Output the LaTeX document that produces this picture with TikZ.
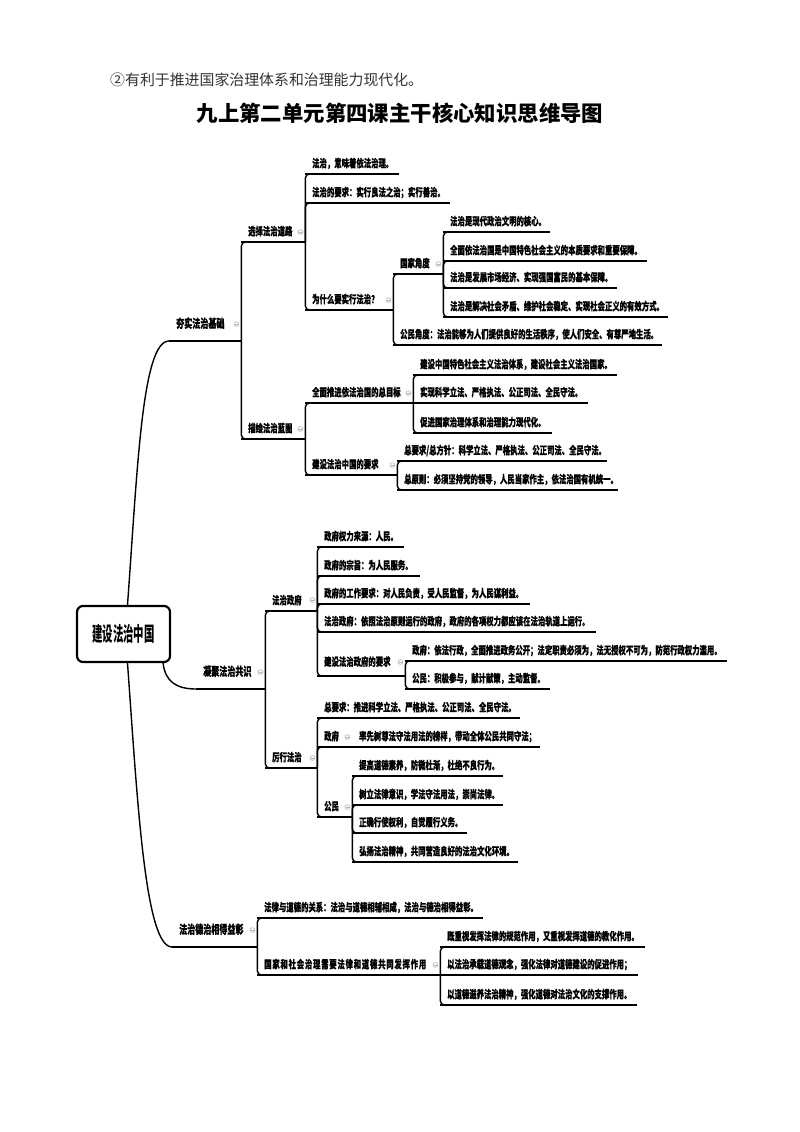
\documentclass[tikz,border=0pt]{standalone}
\usepackage{fontspec}
\setmainfont{Noto Sans CJK SC}
\newfontfamily\mapfont[FakeStretch=0.67,FakeBold=0.5]{Noto Sans CJK SC}
\newfontfamily\rootfont[FakeStretch=0.52]{Noto Sans CJK SC}
\usetikzlibrary{positioning}
\tikzset{
    note/.style={anchor=west, inner sep=0pt, text=black!80, font=\fontsize{14.9}{16}\selectfont},
    title/.style={inner sep=0pt, font=\bfseries\fontsize{21.4}{24}\selectfont},
    root box/.style={draw, line width=2.2pt, rounded corners=6pt, minimum width=93pt, minimum height=56pt, font=\rootfont\bfseries\fontsize{20}{22}\selectfont},
    topic/.style={anchor=south west, inner sep=0pt, text height=9pt, text depth=6.5pt, font=\mapfont\bfseries\fontsize{11}{12}\selectfont},
    main topic/.style={topic, text depth=13pt, font=\mapfont\bfseries\fontsize{12}{13}\selectfont},
    underline/.style={line width=2.4pt},
    link/.style={line width=1.4pt, rounded corners=4pt},
    trunk/.style={line width=1.4pt},
    fold/.style={draw=gray!60, line width=0.6pt}
}
% topic node: [style]{name}{x1}{y of line}{x2}{text}
\newcommand{\topic}[6][topic]{\node[#1] (#2) at (#3,#4) {\makebox[\dimexpr#5pt-#3pt\relax][l]{\hspace{7pt}#6}};}
\begin{document}
\begin{tikzpicture}[x=1pt,y=-1pt]
    \path[fill=white] (0,0) rectangle (800,1132);
    \node[note] (note) at (110,80) {②有利于推进国家治理体系和治理能力现代化。};
    \node[title] (title) at (400,113) {九上第二单元第四课主干核心知识思维导图};
    \node[root box] (root) at (123.5,634) {建设法治中国};
    % first branch
    \topic[main topic]{hs}{169}{341}{241}{夯实法治基础}
    \topic{xz}{241}{242}{305}{选择法治道路}
    \topic{a1}{305}{174}{399}{法治，意味着依法治理。}
    \topic{a2}{305}{203}{450}{法治的要求：实行良法之治；实行善治。}
    \topic{a3}{305}{310}{393}{为什么要实行法治？}
    \topic{b1}{393}{274}{443}{国家角度}
    \topic{b2}{393}{345}{662}{公民角度：法治能够为人们提供良好的生活秩序，使人们安全、有尊严地生活。}
    \topic{c1}{443}{232}{550}{法治是现代政治文明的核心。}
    \topic{c2}{443}{261}{647}{全面依法治国是中国特色社会主义的本质要求和重要保障。}
    \topic{c3}{443}{288}{617}{法治是发展市场经济、实现强国富民的基本保障。}
    \topic{c4}{443}{317}{668}{法治是解决社会矛盾、维护社会稳定、实现社会正义的有效方式。}
    \topic{mh}{241}{439}{305}{描绘法治蓝图}
    \topic{d1}{305}{403}{413}{全面推进依法治国的总目标}
    \topic{d2}{305}{475}{397}{建设法治中国的要求}
    \topic{e1}{413}{375}{617}{建设中国特色社会主义法治体系，建设社会主义法治国家。}
    \topic{e2}{413}{403}{588}{实现科学立法、严格执法、公正司法、全民守法。}
    \topic{e3}{413}{433}{552}{促进国家治理体系和治理能力现代化。}
    \topic{f1}{397}{461}{607}{总要求/总方针：科学立法、严格执法、公正司法、全民守法。}
    \topic{f2}{397}{490}{618}{总原则：必须坚持党的领导，人民当家作主，依法治国有机统一。}
    % second branch
    \topic[main topic]{nj}{196}{689}{265}{凝聚法治共识}
    \topic{g1}{265}{611}{317}{法治政府}
    \topic{h1}{317}{547}{404}{政府权力来源：人民。}
    \topic{h2}{317}{576}{420}{政府的宗旨：为人民服务。}
    \topic{h3}{317}{604}{530}{政府的工作要求：对人民负责，受人民监督，为人民谋利益。}
    \topic{h4}{317}{632}{596}{法治政府：依照法治原则运行的政府，政府的各项权力都应该在法治轨道上运行。}
    \topic[topic, text depth=10pt]{h5}{317}{676}{405}{建设法治政府的要求}
    \topic{i1}{405}{661}{727}{政府：依法行政，全面推进政务公开；法定职责必须为，法无授权不可为，防范行政权力滥用。}
    \topic{i2}{405}{689}{550}{公民：积极参与，献计献策，主动监督。}
    \topic{g2}{265}{768}{317}{厉行法治}
    \topic{j1}{317}{718}{520}{总要求：推进科学立法、严格执法、公正司法、全民守法。}
    \topic{j2}{317}{747}{352}{政府}
    \topic{k1}{352}{747}{540}{率先树尊法守法用法的榜样，带动全体公民共同守法；}
    \topic{j3}{317}{817}{352}{公民}
    \topic{l1}{352}{776}{503}{提高道德素养，防微杜渐，杜绝不良行为。}
    \topic{l2}{352}{805}{503}{树立法律意识，学法守法用法，崇尚法律。}
    \topic{l3}{352}{833}{467}{正确行使权利，自觉履行义务。}
    \topic{l4}{352}{862}{518}{弘扬法治精神，共同营造良好的法治文化环境。}
    % third branch
    \topic[main topic]{fz}{172}{947}{257}{法治德治相得益彰}
    \topic{m1}{257}{918}{483}{法律与道德的关系：法治与道德相辅相成，法治与德治相得益彰。}
    \topic{m2}{257}{975}{440}{\addfontfeatures{LetterSpace=7}国家和社会治理需要法律和道德共同发挥作用}
    \topic{n1}{440}{947}{645}{既重视发挥法律的规范作用，又重视发挥道德的教化作用。}
    \topic{n2}{440}{975}{638}{以法治承载道德观念，强化法律对道德建设的促进作用；}
    \topic{n3}{440}{1005}{637}{以道德滋养法治精神，强化道德对法治文化的支撑作用。}
    % connectors
    \draw[trunk] ([xshift=4pt]root.north) .. controls +(10,-136) and +(-27,0) .. (hs.south west);
    \draw[trunk] ([xshift=-8pt]root.south east) .. controls +(2,18) and +(-20,0) .. (nj.south west);
    \draw[trunk] ([xshift=4pt]root.south) .. controls +(10,138) and +(-27,0) .. (fz.south west);
    \foreach \p/\c in {hs/xz, hs/mh, xz/a1, xz/a2, xz/a3, a3/b1, a3/b2, b1/c1, b1/c2, b1/c3, b1/c4,
        mh/d1, mh/d2, d1/e1, d1/e3, d2/f1, d2/f2, nj/g1, nj/g2, g1/h1, g1/h2, g1/h3, g1/h4, g1/h5,
        h5/i1, h5/i2, g2/j1, g2/j2, g2/j3, j3/l1, j3/l2, j3/l3, j3/l4, fz/m1, fz/m2, m2/n1, m2/n3}
        \draw[link] (\p.south east) |- ([xshift=8pt]\c.south west);
    \foreach \n in {hs, xz, a1, a2, a3, b1, b2, c1, c2, c3, c4, mh, d1, d2, e1, e2, e3, f1, f2,
        nj, g1, h1, h2, h3, h4, h5, i1, i2, g2, j1, j2, k1, j3, l1, l2, l3, l4, fz, m1, m2, n1, n2, n3}
        \draw[underline] (\n.south west) -- (\n.south east);
    % fold marks
    \foreach \n/\h in {hs/17, nj/17, fz/17, xz/10, mh/10, a3/10, b1/10, d1/10, d2/10,
        g1/11, g2/10, h5/14, j2/10, j3/10, m2/10} {
        \draw[fold] ([xshift=-5pt,yshift=\h pt]\n.south east) circle (2.4pt);
        \draw[fold] ([xshift=-6.4pt,yshift=\h pt]\n.south east) -- ++(2.8,0);
    }
\end{tikzpicture}
\end{document}
